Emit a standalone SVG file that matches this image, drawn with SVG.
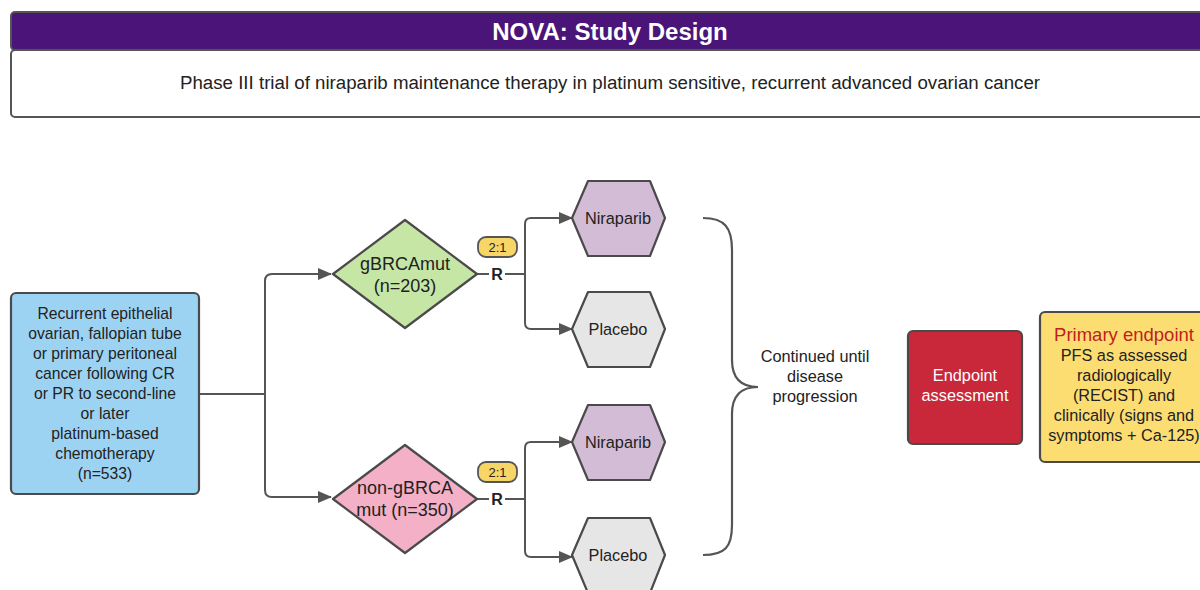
<svg xmlns="http://www.w3.org/2000/svg" width="1200" height="590" viewBox="0 0 1200 590">
<style>
text{font-family:"Liberation Sans",Arial,sans-serif;fill:#222;text-anchor:middle}
.sh{stroke:#4a4a4a;stroke-width:2.2;stroke-linejoin:round}
.ln{fill:none;stroke:#555;stroke-width:2}
.t15{font-size:15.7px}
.t16{font-size:16.3px}
.t18{font-size:18px}
</style>
<defs>
<marker id="ah" markerUnits="userSpaceOnUse" markerWidth="14" markerHeight="12" refX="13" refY="6" orient="auto">
<path d="M0,0 L14,6 L0,12 Z" fill="#555"/>
</marker>
</defs>
<g id="header">
<rect x="11" y="12" width="1200" height="38" rx="4" fill="#4a1478" stroke="#555" stroke-width="2"/>
<text x="610" y="39.5" style="font-size:24px;font-weight:bold;fill:#fff">NOVA: Study Design</text>
</g>
<g id="subtitle">
<rect x="11" y="50" width="1200" height="67" rx="4" fill="#fff" stroke="#555" stroke-width="2"/>
<text x="610" y="89" style="font-size:18px" textLength="860" lengthAdjust="spacingAndGlyphs">Phase III trial of niraparib maintenance therapy in platinum sensitive, recurrent advanced ovarian cancer</text>
</g>
<g id="connectors">
<path class="ln" d="M199,394 H265"/>
<path class="ln" d="M265,394 V281 Q265,274 272,274 H331" marker-end="url(#ah)"/>
<path class="ln" d="M265,394 V490 Q265,497 272,497 H331" marker-end="url(#ah)"/>
<path class="ln" d="M477,274 H489 M505,274 H525"/>
<path class="ln" d="M525,274 V224 Q525,218 531,218 H572" marker-end="url(#ah)"/>
<path class="ln" d="M525,274 V323 Q525,329 531,329 H572" marker-end="url(#ah)"/>
<path class="ln" d="M477,499 H489 M505,499 H525"/>
<path class="ln" d="M525,499 V448 Q525,442 531,442 H572" marker-end="url(#ah)"/>
<path class="ln" d="M525,499 V551 Q525,557 531,557 H572" marker-end="url(#ah)"/>
<text x="497" y="280" style="font-size:16px;font-weight:bold">R</text>
<text x="497" y="505" style="font-size:16px;font-weight:bold">R</text>
</g>
<g id="population">
<rect class="sh" x="11" y="293" width="188" height="201" rx="5" fill="#9dd3f2"/>
<text class="t15" x="105" y="319">Recurrent epithelial</text>
<text class="t15" x="105" y="339">ovarian, fallopian tube</text>
<text class="t15" x="105" y="359">or primary peritoneal</text>
<text class="t15" x="105" y="379">cancer following CR</text>
<text class="t15" x="105" y="399">or PR to second-line</text>
<text class="t15" x="105" y="419">or later</text>
<text class="t15" x="105" y="439">platinum-based</text>
<text class="t15" x="105" y="459">chemotherapy</text>
<text class="t15" x="105" y="479">(n=533)</text>
</g>
<g id="gbrca">
<path class="sh" d="M333,274 L405,220 L477,274 L405,328 Z" fill="#c6e6a6"/>
<text class="t18" x="405" y="270">gBRCAmut</text>
<text class="t18" x="405" y="292">(n=203)</text>
</g>
<g id="nongbrca">
<path class="sh" d="M333,499 L405,445 L477,499 L405,553 Z" fill="#f3b0c6"/>
<text class="t18" x="405" y="494">non-gBRCA</text>
<text class="t18" x="405" y="516">mut (n=350)</text>
</g>
<g id="ratio1">
<rect x="478" y="237" width="39" height="20" rx="8" fill="#f8d567" stroke="#555" stroke-width="1.8"/>
<text x="497.5" y="252" style="font-size:13px">2:1</text>
</g>
<g id="ratio2">
<rect x="478" y="462" width="39" height="20" rx="8" fill="#f8d567" stroke="#555" stroke-width="1.8"/>
<text x="497.5" y="477" style="font-size:13px">2:1</text>
</g>
<g id="niraparib1">
<path class="sh" d="M572,218 L588,181 H650 L665,218 L650,256 H588 Z" fill="#d3bcd5"/>
<text class="t16" x="618" y="223.5">Niraparib</text>
</g>
<g id="placebo1">
<path class="sh" d="M572,329 L588,292 H650 L665,329 L650,367 H588 Z" fill="#e6e6e6"/>
<text class="t16" x="618" y="334.5">Placebo</text>
</g>
<g id="niraparib2">
<path class="sh" d="M572,442 L588,405 H650 L665,442 L650,480 H588 Z" fill="#d3bcd5"/>
<text class="t16" x="618" y="447.5">Niraparib</text>
</g>
<g id="placebo2">
<path class="sh" d="M572,555 L588,518 H650 L665,555 L650,593 H588 Z" fill="#e6e6e6"/>
<text class="t16" x="618" y="560.5">Placebo</text>
</g>
<g id="brace">
<path class="ln" style="stroke-width:2.2" d="M703,218 C725,218 732,228 732,250 V360 C732,378 740,387 758,387 C740,387 732,396 732,414 V525 C732,547 725,555 703,555"/>
<text class="t16" x="815" y="362">Continued until</text>
<text class="t16" x="815" y="382">disease</text>
<text class="t16" x="815" y="402">progression</text>
</g>
<g id="endpoint">
<rect class="sh" x="908" y="331" width="114" height="113" rx="5" fill="#c8283a"/>
<text class="t16" x="965" y="381" style="fill:#fff">Endpoint</text>
<text class="t16" x="965" y="401" style="fill:#fff">assessment</text>
</g>
<g id="primary">
<rect class="sh" x="1040" y="312" width="180" height="150" rx="5" fill="#fcdd72"/>
<text x="1124" y="341" style="font-size:18.5px;fill:#c01e1e">Primary endpoint</text>
<text class="t16" x="1124" y="361">PFS as assessed</text>
<text class="t16" x="1124" y="381">radiologically</text>
<text class="t16" x="1124" y="401">(RECIST) and</text>
<text class="t16" x="1124" y="421">clinically (signs and</text>
<text class="t16" x="1124" y="441">symptoms + Ca-125)</text>
</g>
</svg>
